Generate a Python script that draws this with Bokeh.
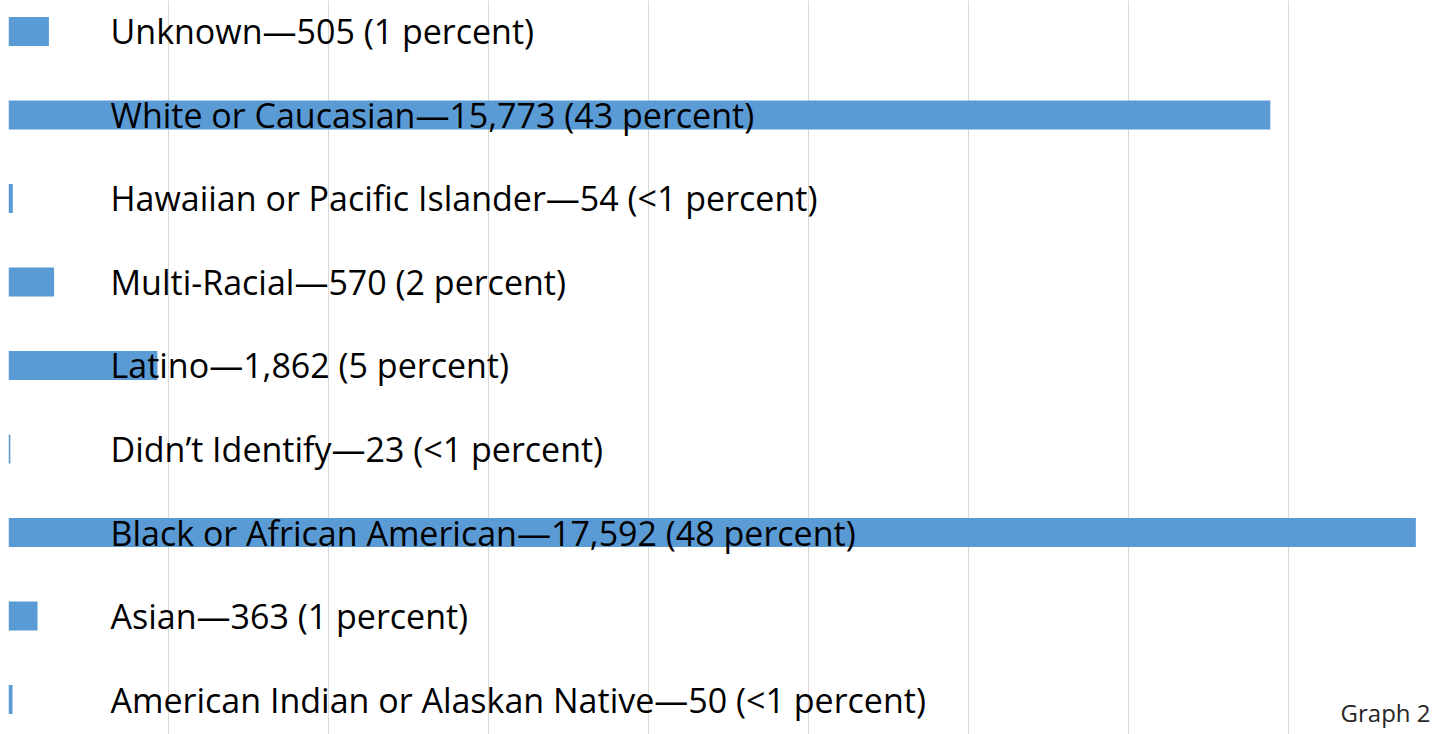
from bokeh.plotting import figure
from bokeh.models import Range1d, SingleIntervalTicker, Label, ColumnDataSource
from bokeh.core.properties import value
from bokeh.embed import file_html
from bokeh.resources import INLINE

# bottom to top
categories = [
    "American Indian or Alaskan Native",
    "Asian",
    "Black or African American",
    "Didn\u2019t Identify",
    "Latino",
    "Multi-Racial",
    "Hawaiian or Pacific Islander",
    "White or Caucasian",
    "Unknown",
]
counts = [50, 363, 17592, 23, 1862, 570, 54, 15773, 505]
percent_labels = ["<1", "1", "48", "<1", "5", "2", "<1", "43", "1"]

labels = [f"{c}\u2014{n:,} ({p} percent)" for c, n, p in zip(categories, counts, percent_labels)]
ypos = list(range(len(categories)))

src = ColumnDataSource(dict(y=ypos, count=counts, label=labels, zero=[0] * len(counts)))

p = figure(width=1432, height=734, output_backend="svg", toolbar_location=None,
           x_range=Range1d(0, 17800), y_range=Range1d(-0.419, 8.371),
           min_border=0, min_border_left=8, outline_line_color=None)
p.xaxis.visible = False
p.yaxis.visible = False
p.ygrid.visible = False
p.xgrid.ticker = SingleIntervalTicker(interval=2000)
p.xgrid.grid_line_color = "#d9d9d9"
p.xgrid.grid_line_width = 1

p.hbar(y="y", left=0, right="count", height=0.347, source=src,
       fill_color="#5b9bd5", line_color=None)

p.text(x="zero", y="y", text="label", source=src, x_offset=102, y_offset=0,
       text_baseline="middle", text_align="left",
       text_font=value("Open Sans"), text_font_size="34px", text_color="#000000")

p.add_layout(Label(x=1422, y=22, x_units="screen", y_units="screen", text="Graph 2",
                   text_align="right", text_baseline="middle",
                   text_font="Open Sans", text_font_size="24px", text_color="#262626"))

open("out.html", "w").write(file_html(p, INLINE))
